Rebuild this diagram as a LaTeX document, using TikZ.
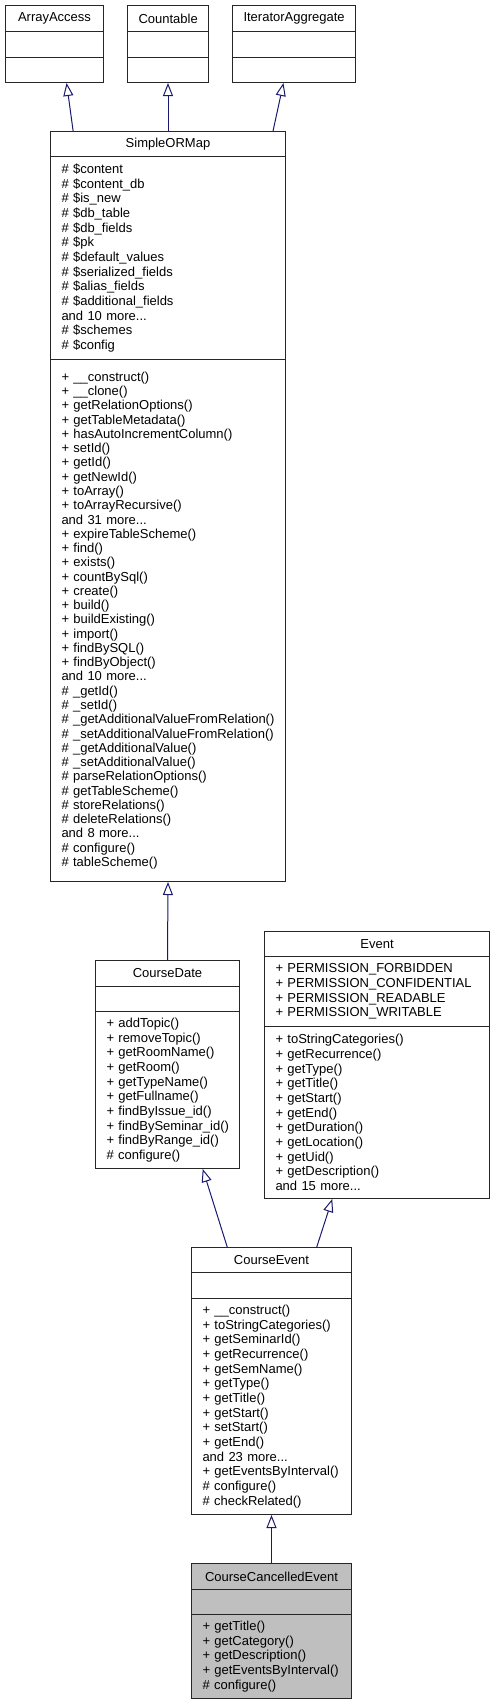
\documentclass[tikz,border=0pt]{standalone}
\usepackage{fontspec}
\setmainfont{Liberation Sans}
\usetikzlibrary{arrows.meta, calc}

\definecolor{edgeblue}{RGB}{25,25,112}

\begin{document}
\begin{tikzpicture}[x=0.75pt, y=-0.75pt,
  cls/.style={draw=black!85, line width=0.75pt, fill=white, anchor=north west, inner xsep=8.25pt, inner ysep=0pt, text width=#1, align=left, font=\fontsize{9.75pt}{11pt}\selectfont},
  clstitle/.style={cls=#1, align=center},
  inherit/.style={draw=edgeblue, line width=0.75pt, -{Triangle[open, length=9.75pt, width=7.5pt]}}]

\useasboundingbox (0,0) rectangle (495,1704);

\node [clstitle=57pt, minimum height=19.5pt] (aa_t) at (5,5) {ArrayAccess};
\node [cls=57pt, minimum height=19.5pt] (aa_a) at (5,31) {};
\node [cls=57pt, minimum height=18.75pt] (aa_m) at (5,57) {};

\node [clstitle=44.25pt, minimum height=19.5pt] (cnt_t) at (127,5) {Countable};
\node [cls=44.25pt, minimum height=19.5pt] (cnt_a) at (127,31) {};
\node [cls=44.25pt, minimum height=18.75pt] (cnt_m) at (127,57) {};

\node [clstitle=75.75pt, minimum height=19.5pt] (ia_t) at (232,5) {IteratorAggregate};
\node [cls=75.75pt, minimum height=19.5pt] (ia_a) at (232,31) {};
\node [cls=75.75pt, minimum height=18.75pt] (ia_m) at (232,57) {};

\node [clstitle=159.75pt, minimum height=18.75pt] (sorm_t) at (50,131) {SimpleORMap};
\node [cls=159.75pt, minimum height=152.25pt] (sorm_a) at (50,156) {\# \$content\\\# \$content\_db\\\# \$is\_new\\\# \$db\_table\\\# \$db\_fields\\\# \$pk\\\# \$default\_values\\\# \$serialized\_fields\\\# \$alias\_fields\\\# \$additional\_fields\\and 10 more...\\\# \$schemes\\\# \$config};
\node [cls=159.75pt, minimum height=391.5pt, font=\fontsize{9.75pt}{10.7pt}\selectfont] (sorm_m) at (50,359) {+ \_\_construct()\\+ \_\_clone()\\+ getRelationOptions()\\+ getTableMetadata()\\+ hasAutoIncrementColumn()\\+ setId()\\+ getId()\\+ getNewId()\\+ toArray()\\+ toArrayRecursive()\\and 31 more...\\+ expireTableScheme()\\+ find()\\+ exists()\\+ countBySql()\\+ create()\\+ build()\\+ buildExisting()\\+ import()\\+ findBySQL()\\+ findByObject()\\and 10 more...\\\# \_getId()\\\# \_setId()\\\mbox{\# \_getAdditionalValueFromRelation()}\\\mbox{\# \_setAdditionalValueFromRelation()}\\\# \_getAdditionalValue()\\\# \_setAdditionalValue()\\\# parseRelationOptions()\\\# getTableScheme()\\\# storeRelations()\\\# deleteRelations()\\and 8 more...\\\# configure()\\\# tableScheme()};

\node [clstitle=91.5pt, minimum height=19.5pt] (cd_t) at (95,960) {CourseDate};
\node [cls=91.5pt, minimum height=18.75pt] (cd_a) at (95,986) {};
\node [cls=91.5pt, minimum height=117.75pt] (cd_m) at (95,1011) {+ addTopic()\\+ removeTopic()\\+ getRoomName()\\+ getRoom()\\+ getTypeName()\\+ getFullname()\\+ findByIssue\_id()\\\mbox{+ findBySeminar\_id()}\\+ findByRange\_id()\\\# configure()};

\node [clstitle=152.25pt, minimum height=18.75pt] (ev_t) at (264,931) {Event};
\node [cls=152.25pt, minimum height=52.5pt] (ev_a) at (264,956) {+ PERMISSION\_FORBIDDEN\\\mbox{+ PERMISSION\_CONFIDENTIAL}\\+ PERMISSION\_READABLE\\+ PERMISSION\_WRITABLE};
\node [cls=152.25pt, minimum height=129pt] (ev_m) at (264,1026) {+ toStringCategories()\\+ getRecurrence()\\+ getType()\\+ getTitle()\\+ getStart()\\+ getEnd()\\+ getDuration()\\+ getLocation()\\+ getUid()\\+ getDescription()\\and 15 more...};

\node [clstitle=103.5pt, minimum height=18.75pt] (ce_t) at (191,1247) {CourseEvent};
\node [cls=103.5pt, minimum height=19.5pt] (ce_a) at (191,1272) {};
\node [cls=103.5pt, minimum height=162pt] (ce_m) at (191,1298) {+ \_\_construct()\\+ toStringCategories()\\+ getSeminarId()\\+ getRecurrence()\\+ getSemName()\\+ getType()\\+ getTitle()\\+ getStart()\\+ setStart()\\+ getEnd()\\and 23 more...\\\mbox{+ getEventsByInterval()}\\\# configure()\\\# checkRelated()};

\node [clstitle=103.5pt, minimum height=19.5pt, fill=black!25] (cce_t) at (191,1563) {CourseCancelledEvent};
\node [cls=103.5pt, minimum height=18.75pt, fill=black!25] (cce_a) at (191,1589) {};
\node [cls=103.5pt, minimum height=63pt, fill=black!25] (cce_m) at (191,1614) {+ getTitle()\\+ getCategory()\\+ getDescription()\\\mbox{+ getEventsByInterval()}\\\# configure()};

\draw [inherit] ($(sorm_t.north west)!0.098!(sorm_t.north east)$) -- ($(aa_m.south west)!0.622!(aa_m.south east)$);
\draw [inherit] (sorm_t.north) -- (cnt_m.south);
\draw [inherit] ($(sorm_t.north west)!0.945!(sorm_t.north east)$) -- ($(ia_m.south west)!0.415!(ia_m.south east)$);

\draw [inherit] (cd_t.north) -- (sorm_m.south);

\draw [inherit] ($(ce_t.north west)!0.225!(ce_t.north east)$) -- ($(cd_m.south west)!0.743!(cd_m.south east)$);
\draw [inherit] ($(ce_t.north west)!0.781!(ce_t.north east)$) -- ($(ev_m.south west)!0.302!(ev_m.south east)$);

\draw [inherit] (cce_t.north) -- (ce_m.south);

\end{tikzpicture}
\end{document}
